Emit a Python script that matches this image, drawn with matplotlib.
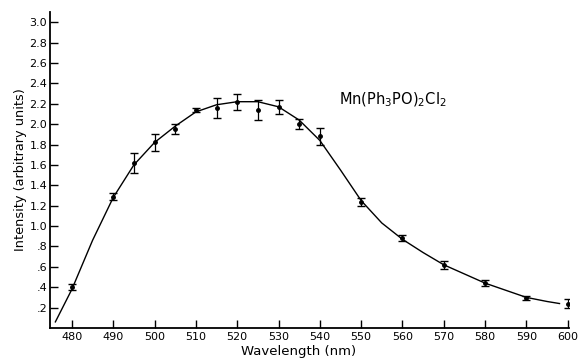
import numpy as np
import matplotlib.pyplot as plt

plt.rcParams['font.family'] = ['DejaVu Sans']

# measured points
wavelength = [480, 490, 495, 500, 505, 510, 515, 520, 525, 530, 535, 540,
              550, 560, 570, 580, 590, 600]
intensity = [0.40, 1.29, 1.62, 1.82, 1.95, 2.14, 2.16, 2.22, 2.14, 2.17, 2.00, 1.88,
             1.24, 0.88, 0.62, 0.44, 0.29, 0.24]
error = [0.03, 0.03, 0.10, 0.08, 0.05, 0.02, 0.10, 0.08, 0.10, 0.07, 0.05, 0.08,
         0.04, 0.03, 0.04, 0.03, 0.02, 0.04]

# hand-drawn smooth curve
curve_x = [476, 480, 485, 490, 495, 500, 505, 510, 515, 520, 525, 530, 535, 540,
           545, 550, 555, 560, 565, 570, 575, 580, 585, 590, 595, 598]
curve_y = [0.06, 0.38, 0.86, 1.28, 1.60, 1.82, 1.98, 2.12, 2.19, 2.22, 2.22, 2.17,
           2.04, 1.84, 1.55, 1.25, 1.03, 0.87, 0.74, 0.62, 0.53, 0.44, 0.37, 0.30,
           0.26, 0.24]

xticks = [480, 490, 500, 510, 520, 530, 540, 550, 560, 570, 580, 590, 600]
yticks = [0.2, 0.4, 0.6, 0.8, 1.0, 1.2, 1.4, 1.6, 1.8, 2.0, 2.2, 2.4, 2.6, 2.8, 3.0]
ytick_labels = ['.2', '.4', '.6', '.8', '1.0', '1.2', '1.4', '1.6', '1.8', '2.0',
                '2.2', '2.4', '2.6', '2.8', '3.0']

fig = plt.figure(figsize=(5.84, 3.64), dpi=100)
ax = fig.add_axes([50 / 584, 36 / 364, 519 / 584, 316 / 364])

ax.plot(curve_x, curve_y, color='black', lw=1.0)
ax.errorbar(wavelength, intensity, yerr=error, fmt='o', color='black', ms=2.5,
            capsize=3, elinewidth=0.9, capthick=1.0)

ax.set_xlim(474.7, 600.3)
ax.set_ylim(0, 3.1)
ax.set_xticks(xticks)
ax.set_yticks(yticks)
ax.set_yticklabels(ytick_labels)
ax.tick_params(direction='in', length=6, width=1, labelsize=8, pad=3)
ax.tick_params(axis='y', pad=2)

for s in ['top', 'right']:
    ax.spines[s].set_visible(False)
for s in ['left', 'bottom']:
    ax.spines[s].set_linewidth(1.3)

ax.set_xlabel('Wavelength (nm)', fontsize=9.5)
ax.xaxis.set_label_coords(0.478, -0.055)
ax.set_ylabel('Intensity (arbitrary units)', fontsize=9.3, labelpad=2)

ax.text(544.6, 2.24, 'Mn(Ph$_3$PO)$_2$Cl$_2$', fontsize=10.5,
        ha='left', va='center')

fig.savefig('out.png', dpi=100)
